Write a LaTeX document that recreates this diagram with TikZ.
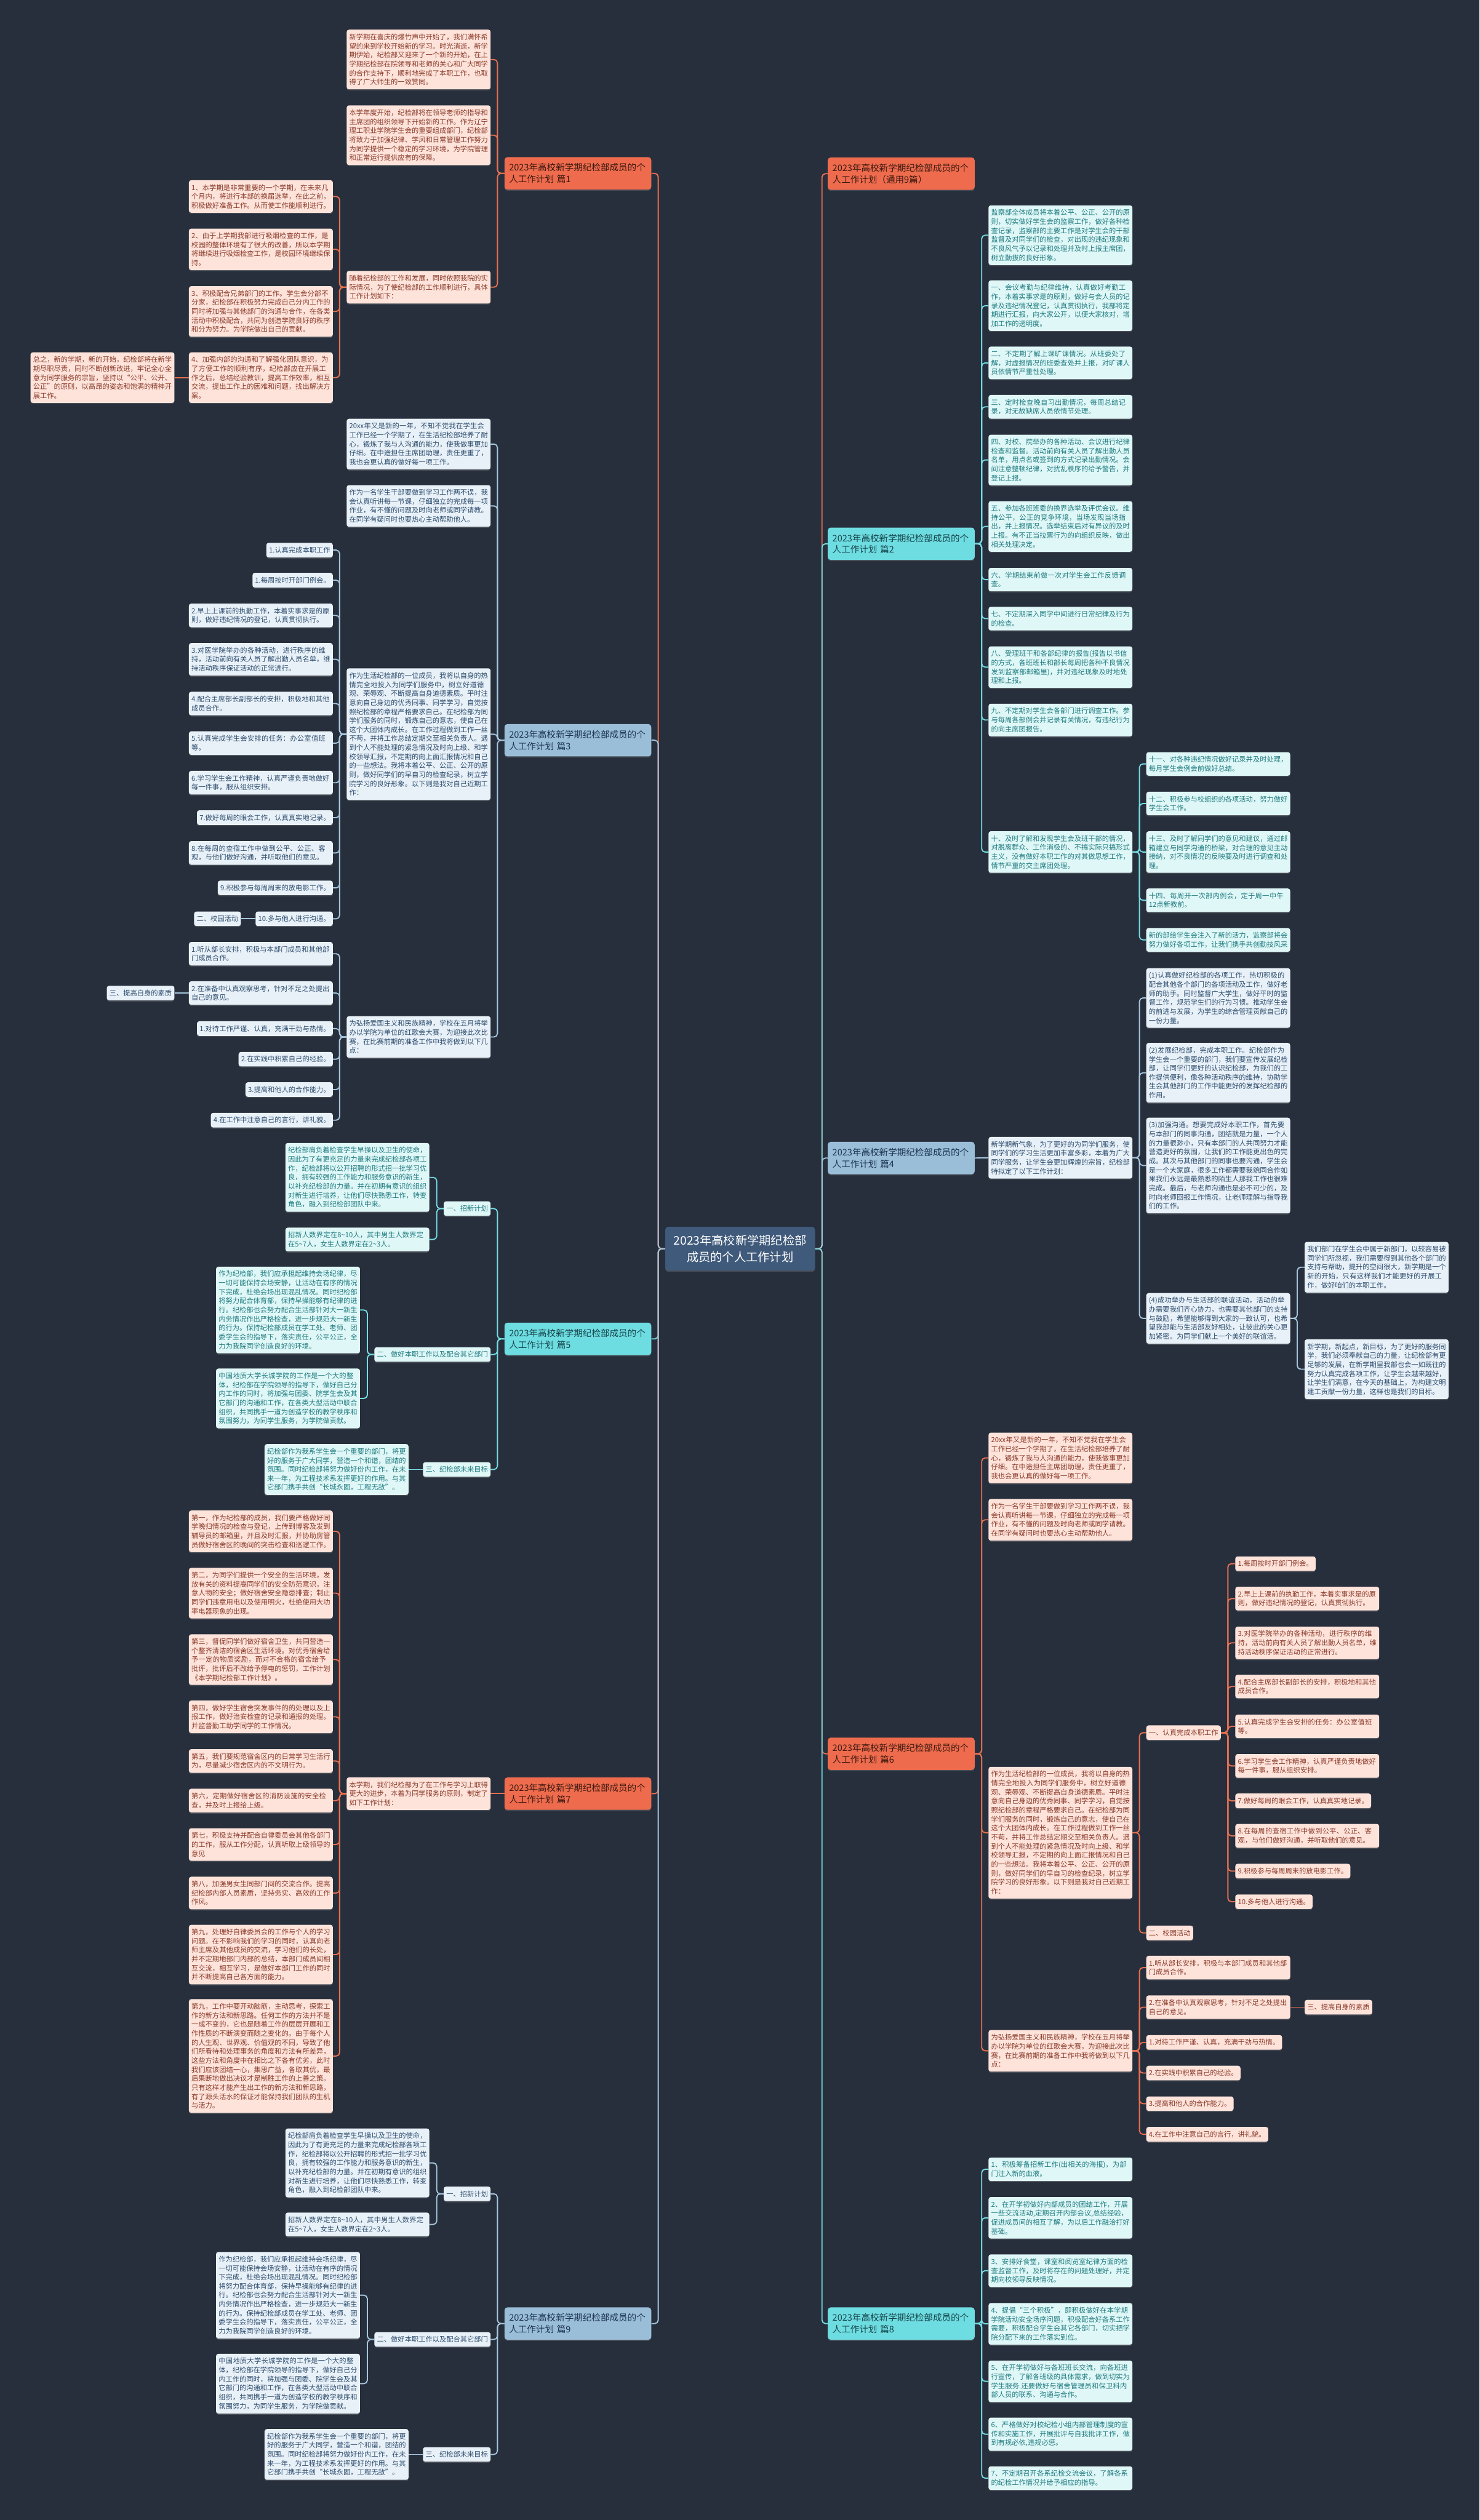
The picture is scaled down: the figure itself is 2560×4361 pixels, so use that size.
\documentclass[tikz,border=0pt]{standalone}
\usepackage{fontspec}
\setmainfont{Noto Sans CJK SC}
\XeTeXlinebreaklocale "zh"
\XeTeXlinebreakskip=0pt plus 1pt
\usetikzlibrary{shadows}
\definecolor{bgc}{HTML}{272F3D}
\definecolor{pkf}{HTML}{FDE3DA}\definecolor{pkt}{HTML}{8B3A2A}
\definecolor{cyf}{HTML}{E0F7F7}\definecolor{cyt}{HTML}{1E7B80}
\definecolor{buf}{HTML}{E9F1F8}\definecolor{but}{HTML}{2D4D6E}
\definecolor{bOf}{HTML}{EE6C4D}\definecolor{bOt}{HTML}{3B1710}
\definecolor{bCf}{HTML}{6EDDE2}\definecolor{bCt}{HTML}{17464B}
\definecolor{bBf}{HTML}{9ABED8}\definecolor{bBt}{HTML}{1D3550}
\definecolor{rootf}{HTML}{3F5A7B}
\definecolor{lnO}{HTML}{E9704F}\definecolor{lnC}{HTML}{74DDE2}\definecolor{lnB}{HTML}{A6C6DC}
\pgfdeclarelayer{bglayer}\pgfdeclarelayer{lnlayer}\pgfsetlayers{bglayer,lnlayer,main}
\tikzset{
 tx/.style={rounded corners=4pt, inner xsep=4.5pt, inner ysep=7pt, font=\fontsize{12}{15.6}\selectfont, align=left,
   drop shadow={shadow xshift=0pt, shadow yshift=-2pt, opacity=0.35}},
 wide/.style={text width=240pt},
 pk/.style={tx, fill=pkf, text=pkt},
 cy/.style={tx, fill=cyf, text=cyt},
 bu/.style={tx, fill=buf, text=but},
 brn/.style={rounded corners=5pt, inner xsep=8pt, text width=238pt, minimum height=56pt, align=left,
   font=\fontsize{15.5}{20}\selectfont, drop shadow={shadow xshift=0pt, shadow yshift=-2pt, opacity=0.35}},
 brO/.style={brn, fill=bOf, text=bOt},
 brC/.style={brn, fill=bCf, text=bCt},
 brB/.style={brn, fill=bBf, text=bBt},
 rootn/.style={rounded corners=5pt, fill=rootf, text=white, minimum width=259pt, minimum height=76pt, align=center,
   font=\fontsize{20.5}{28}\selectfont, drop shadow={shadow xshift=0pt, shadow yshift=-2pt, opacity=0.35}},
 ln/.style={line width=2pt, rounded corners=6pt},
 lO/.style={ln, draw=lnO}, lC/.style={ln, draw=lnC}, lB/.style={ln, draw=lnB}
}
\newcommand\LinkL[3]{\draw[#1] (#2.west) -- ++(-12,0) |- (#3.east);}
\newcommand\LinkR[3]{\draw[#1] (#2.east) -- ++(12,0) |- (#3.west);}
\newcommand\txtSA{20xx年又是新的一年，不知不觉我在学生会工作已经一个学期了，在生活纪检部培养了耐心，锻炼了我与人沟通的能力，使我做事更加仔细。在中途担任主席团助理，责任更重了，我也会更认真的做好每一项工作。}
\newcommand\txtSB{作为一名学生干部要做到学习工作两不误，我会认真听讲每一节课，仔细独立的完成每一项作业，有不懂的问题及时向老师或同学请教。在同学有疑问时也要热心主动帮助他人。}
\newcommand\txtSC{作为生活纪检部的一位成员，我将以自身的热情完全地投入为同学们服务中，树立好道德观、荣辱观、不断提高自身道德素质。平时注意向自己身边的优秀同事、同学学习，自觉按照纪检部的章程严格要求自己。在纪检部为同学们服务的同时，锻炼自己的意志，使自己在这个大团体内成长。在工作过程做到工作一丝不苟，并将工作总结定期交至相关负责人。遇到个人不能处理的紧急情况及时向上级、和学校领导汇报，不定期的向上面汇报情况和自己的一些想法。我将本着公平、公正、公开的原则，做好同学们的早自习的检查纪录，树立学院学习的良好形象。以下则是我对自己近期工作：}
\newcommand\txtSD{为弘扬爱国主义和民族精神，学校在五月将举办以学院为单位的红歌会大赛，为迎接此次比赛，在比赛前期的准备工作中我将做到以下几点：}
\newcommand\txtIa{1.每周按时开部门例会。}
\newcommand\txtIb{2.早上上课前的执勤工作，本着实事求是的原则，做好违纪情况的登记，认真贯彻执行。}
\newcommand\txtIc{3.对医学院举办的各种活动，进行秩序的维持，活动前向有关人员了解出勤人员名单，维持活动秩序保证活动的正常进行。}
\newcommand\txtId{4.配合主席部长副部长的安排，积极地和其他成员合作。}
\newcommand\txtIe{5.认真完成学生会安排的任务：办公室值班等。}
\newcommand\txtIf{6.学习学生会工作精神，认真严谨负责地做好每一件事，服从组织安排。}
\newcommand\txtIg{7.做好每周的眼会工作，认真真实地记录。}
\newcommand\txtIh{8.在每周的查宿工作中做到公平、公正、客观，与他们做好沟通，并听取他们的意见。}
\newcommand\txtIi{9.积极参与每周周末的放电影工作。}
\newcommand\txtIj{10.多与他人进行沟通。}
\newcommand\txtKa{1.听从部长安排，积极与本部门成员和其他部门成员合作。}
\newcommand\txtKb{2.在准备中认真观察思考，针对不足之处提出自己的意见。}
\newcommand\txtKc{1.对待工作严谨、认真，充满干劲与热情。}
\newcommand\txtKd{2.在实践中积累自己的经验。}
\newcommand\txtKe{3.提高和他人的合作能力。}
\newcommand\txtKf{4.在工作中注意自己的言行，讲礼貌。}
\newcommand\txtZa{纪检部肩负着检查学生早操以及卫生的使命，因此为了有更充足的力量来完成纪检部各项工作，纪检部将以公开招聘的形式招一批学习优良，拥有较强的工作能力和服务意识的新生，以补充纪检部的力量。并在初期有意识的组织对新生进行培养，让他们尽快熟悉工作，转变角色，融入到纪检部团队中来。}
\newcommand\txtZb{招新人数界定在8\textasciitilde10人，其中男生人数界定在5\textasciitilde7人，女生人数界定在2\textasciitilde3人。}
\newcommand\txtZc{作为纪检部，我们应承担起维持会场纪律，尽一切可能保持会场安静，让活动在有序的情况下完成，杜绝会场出现混乱情况。同时纪检部将努力配合体育部，保持早操能够有纪律的进行。纪检部也会努力配合生活部针对大一新生内务情况作出严格检查，进一步规范大一新生的行为。保持纪检部成员在学工处、老师、团委学生会的指导下，落实责任，公平公正，全力为我院同学创造良好的环境。}
\newcommand\txtZd{中国地质大学长城学院的工作是一个大的整体，纪检部在学院领导的指导下，做好自己分内工作的同时，将加强与团委、院学生会及其它部门的沟通和工作，在各类大型活动中联合组织，共同携手一道为创造学校的教学秩序和氛围努力，为同学生服务，为学院做贡献。}
\newcommand\txtZe{纪检部作为我系学生会一个重要的部门，将更好的服务于广大同学，营造一个和谐，团结的氛围。同时纪检部将努力做好份内工作，在未来一年，为工程技术系发挥更好的作用。与其它部门携手共创“长城永固，工程无敌”。}
\begin{document}
\begin{tikzpicture}[x=1pt,y=-1pt]
\begin{pgfonlayer}{bglayer}
\fill[bgc] (0,0) rectangle (2560,4361);
\end{pgfonlayer}
\useasboundingbox (0,0) rectangle (2560,4361);

\node[rootn] (root) at (1280.5,2161) {2023年高校新学期纪检部\\成员的个人工作计划};

% ===== Left 1
\node[brO,anchor=east] (L1) at (1127,300) {2023年高校新学期纪检部成员的个\\人工作计划 篇1};
\node[pk,wide,anchor=east] (L1a) at (849,103) {新学期在喜庆的爆竹声中开始了，我们满怀希望的来到学校开始新的学习。时光消逝，新学期伊始，纪检部又迎来了一个新的开始，在上学期纪检部在院领导和老师的关心和广大同学的合作支持下，顺利地完成了本职工作，也取得了广大师生的一致赞同。};
\node[pk,wide,anchor=east] (L1b) at (849,234) {本学年度开始，纪检部将在领导老师的指导和主席团的组织领导下开始新的工作。作为辽宁理工职业学院学生会的重要组成部门，纪检部将致力于加强纪律、学风和日常管理工作努力为同学提供一个稳定的学习环境，为学院管理和正常运行提供应有的保障。};
\node[pk,wide,anchor=east] (L1c) at (849,497) {随着纪检部的工作和发展，同时依照我院的实际情况，为了使纪检部的工作顺利进行，具体工作计划如下：};
\node[pk,wide,anchor=east] (L1c1) at (576,340) {1、本学期是非常重要的一个学期，在未来几个月内，将进行本部的换届选举，在此之前，积极做好准备工作。从而使工作能顺利进行。};
\node[pk,wide,anchor=east] (L1c2) at (576,431.5) {2、由于上学期我部进行吸烟检查的工作，是校园的整体环境有了很大的改善，所以本学期将继续进行吸烟检查工作，是校园环境继续保持。};
\node[pk,wide,anchor=east] (L1c3) at (576,539) {3、积极配合兄弟部门的工作。学生会分部不分家，纪检部在积极努力完成自己分内工作的同时将加强与其他部门的沟通与合作，在各类活动中积极配合，共同为创造学院良好的秩序和分为努力。为学院做出自己的贡献。};
\node[pk,wide,anchor=east] (L1c4) at (576,653.5) {4、加强内部的沟通和了解强化团队意识，为了方便工作的顺利有序，纪检部应在开展工作之后，总结经验教训，提高工作效率，相互交流，提出工作上的困难和问题，找出解决方案。};
\node[pk,wide,anchor=east] (L1d) at (302,653.5) {总之，新的学期，新的开始，纪检部将在新学期尽职尽责，同时不断创新改进，牢记全心全意为同学服务的宗旨，坚持以“公平、公开、公正”的原则，以高昂的姿态和饱满的精神开展工作。};

% ===== Left 3
\node[brB,anchor=east] (L3) at (1127,1281) {2023年高校新学期纪检部成员的个\\人工作计划 篇3};
\node[bu,wide,anchor=east] (L3a) at (849,768.5) {\txtSA};
\node[bu,wide,anchor=east] (L3b) at (849,875.5) {\txtSB};
\node[bu,wide,anchor=east] (L3c) at (849,1270.5) {\txtSC};
\node[bu,wide,anchor=east] (L3d) at (849,1794.5) {\txtSD};
\node[bu,anchor=east] (L3c0) at (576,952) {1.认真完成本职工作};
\node[bu,anchor=east] (L3c1) at (576,1004) {\txtIa};
\node[bu,wide,anchor=east] (L3c2) at (576,1065) {\txtIb};
\node[bu,wide,anchor=east] (L3c3) at (576,1141) {\txtIc};
\node[bu,wide,anchor=east] (L3c4) at (576,1217.5) {\txtId};
\node[bu,wide,anchor=east] (L3c5) at (576,1286) {\txtIe};
\node[bu,wide,anchor=east] (L3c6) at (576,1354.5) {\txtIf};
\node[bu,anchor=east] (L3c7) at (576,1415) {\txtIg};
\node[bu,wide,anchor=east] (L3c8) at (576,1476) {\txtIh};
\node[bu,anchor=east] (L3c9) at (576,1536.5) {\txtIi};
\node[bu,anchor=east] (L3c10) at (576,1590) {\txtIj};
\node[bu,anchor=east] (L3e) at (417,1590) {二、校园活动};
\node[bu,wide,anchor=east] (L3d1) at (576,1650.5) {\txtKa};
\node[bu,wide,anchor=east] (L3d2) at (576,1718.5) {\txtKb};
\node[bu,anchor=east] (L3f) at (302,1718.5) {三、提高自身的素质};
\node[bu,anchor=east] (L3d3) at (576,1780) {\txtKc};
\node[bu,anchor=east] (L3d4) at (576,1833) {\txtKd};
\node[bu,anchor=east] (L3d5) at (576,1885.5) {\txtKe};
\node[bu,anchor=east] (L3d6) at (576,1938.5) {\txtKf};

% ===== Left 5
\node[brC,anchor=east] (L5) at (1127,2317) {2023年高校新学期纪检部成员的个\\人工作计划 篇5};
\node[cy,anchor=east] (L5a) at (849,2091.5) {一、招新计划};
\node[cy,wide,anchor=east] (L5a1) at (743,2037.5) {\txtZa};
\node[cy,wide,anchor=east] (L5a2) at (743,2145) {\txtZb};
\node[cy,anchor=east] (L5b) at (849,2344) {二、做好本职工作以及配合其它部门};
\node[cy,wide,anchor=east] (L5b1) at (623,2267) {\txtZc};
\node[cy,wide,anchor=east] (L5b2) at (623,2420) {\txtZd};
\node[cy,anchor=east] (L5c) at (849,2543) {三、纪检部未来目标};
\node[cy,wide,anchor=east] (L5c1) at (707,2543) {\txtZe};

% ===== Left 7
\node[brO,anchor=east] (L7) at (1127,3104) {2023年高校新学期纪检部成员的个\\人工作计划 篇7};
\node[pk,wide,anchor=east] (L7a) at (849,3104) {本学期，我们纪检部为了在工作与学习上取得更大的进步，本着为同学服务的原则，制定了如下工作计划：};
\node[pk,wide,anchor=east] (L7a1) at (576,2650) {第一，作为纪检部的成员，我们要严格做好同学晚归情况的检查与登记，上传到博客及发到辅导员的邮箱里，并且及时汇报，并协助房管员做好宿舍区的晚间的突击检查和巡逻工作。};
\node[pk,wide,anchor=east] (L7a2) at (576,2757) {第二，为同学们提供一个安全的生活环境，发放有关的资料提高同学们的安全防范意识，注意人物的安全；做好宿舍安全隐患排查；制止同学们违章用电以及使用明火，杜绝使用大功率电器现象的出现。};
\node[pk,wide,anchor=east] (L7a3) at (576,2872) {第三，督促同学们做好宿舍卫生，共同营造一个整齐清洁的宿舍区生活环境。对优秀宿舍给予一定的物质奖励，而对不合格的宿舍给予批评，批评后不改给予停电的惩罚，工作计划《本学期纪检部工作计划》。};
\node[pk,wide,anchor=east] (L7a4) at (576,2971) {第四，做好学生宿舍突发事件的的处理以及上报工作，做好治安检查的记录和通报的处理。并监督勤工助学同学的工作情况。};
\node[pk,wide,anchor=east] (L7a5) at (576,3047.5) {第五，我们要规范宿舍区内的日常学习生活行为，尽量减少宿舍区内的不文明行为。};
\node[pk,wide,anchor=east] (L7a6) at (576,3116) {第六，定期做好宿舍区的消防设施的安全检查，并及时上报给上级。};
\node[pk,wide,anchor=east] (L7a7) at (576,3192) {第七，积极支持并配合自律委员会其他各部门的工作，服从工作分配，认真听取上级领导的意见};
\node[pk,wide,anchor=east] (L7a8) at (576,3276) {第八，加强男女生同部门间的交流合作。提高纪检部内部人员素质，坚持务实、高效的工作作风。};
\node[pk,wide,anchor=east] (L7a9) at (576,3382.5) {第九，处理好自律委员会的工作与个人的学习问题。在不影响我们的学习的同时，认真向老师主席及其他成员的交流，学习他们的长处，并不定期地部门内部的总结，本部门成员间相互交流，相互学习，是做好本部门工作的同时并不断提高自己各方面的能力。};
\node[pk,wide,anchor=east] (L7a10) at (576,3558) {第九，工作中要开动脑筋，主动思考，探索工作的新方法和新思路。任何工作的方法并不是一成不变的，它也是随着工作的层层开展和工作性质的不断演变而随之变化的。由于每个人的人生观、世界观、价值观的不同，导致了他们所看待和处理事务的角度和方法有所差异，这些方法和角度中在相比之下各有优劣，此时我们应该团结一心，集思广益，各取其优，最后果断地做出决议才是制胜工作的上善之策。只有这样才能产生出工作的新方法和新思路，有了源头活水的保证才能保持我们团队的生机与活力。};

% ===== Left 9
\node[brB,anchor=east] (L9) at (1127,4021) {2023年高校新学期纪检部成员的个\\人工作计划 篇9};
\node[bu,anchor=east] (L9a) at (849,3796.5) {一、招新计划};
\node[bu,wide,anchor=east] (L9a1) at (743,3743) {\txtZa};
\node[bu,wide,anchor=east] (L9a2) at (743,3849.5) {\txtZb};
\node[bu,anchor=east] (L9b) at (849,4048.5) {二、做好本职工作以及配合其它部门};
\node[bu,wide,anchor=east] (L9b1) at (623,3972) {\txtZc};
\node[bu,wide,anchor=east] (L9b2) at (623,4125) {\txtZd};
\node[bu,anchor=east] (L9c) at (849,4247.5) {三、纪检部未来目标};
\node[bu,wide,anchor=east] (L9c1) at (707,4247.5) {\txtZe};

% ===== Right 1
\node[brO,anchor=west] (R1) at (1432,300.5) {2023年高校新学期纪检部成员的个\\人工作计划（通用9篇）};

% ===== Right 2
\node[brC,anchor=west] (R2) at (1432,941) {2023年高校新学期纪检部成员的个\\人工作计划 篇2};
\node[cy,wide,anchor=west] (R2a) at (1710,407) {监察部全体成员将本着公平、公正、公开的原则，切实做好学生会的监察工作，做好各种检查记录，监察部的主要工作是对学生会的干部监督及对同学们的检查，对出现的违纪现象和不良风气予以记录和处理并及时上报主席团，树立勤拔的良好形象。};
\node[cy,wide,anchor=west] (R2b) at (1710,529) {一、会议考勤与纪律维持，认真做好考勤工作，本着实事求是的原则，做好与会人员的记录及违纪情况登记，认真贯彻执行，我部将定期进行汇报，向大家公开，以便大家核对，增加工作的透明度。};
\node[cy,wide,anchor=west] (R2c) at (1710,628) {二、不定期了解上课旷课情况。从班委处了解，对虚报情况的班委查处并上报，对旷课人员依情节严重性处理。};
\node[cy,wide,anchor=west] (R2d) at (1710,704) {三、定时检查晚自习出勤情况，每周总结记录，对无故缺席人员依情节处理。};
\node[cy,wide,anchor=west] (R2e) at (1710,796) {四、对校、院举办的各种活动、会议进行纪律检查和监督。活动前向有关人员了解出勤人员名单，用点名或签到的方式记录出勤情况。会间注意整顿纪律，对扰乱秩序的给予警告，并登记上报。};
\node[cy,wide,anchor=west] (R2f) at (1710,911) {五、参加各班班委的换界选举及评优会议。维持公平，公正的竞争环境，当场发现当场指出，并上报情况。选举结束后对有异议的及时上报。有不正当拉票行为的向组织反映，做出相关处理决定。};
\node[cy,wide,anchor=west] (R2g) at (1710,1003) {六、学期结束前做一次对学生会工作反馈调查。};
\node[cy,wide,anchor=west] (R2h) at (1710,1070.5) {七、不定期深入同学中间进行日常纪律及行为的检查。};
\node[cy,wide,anchor=west] (R2i) at (1710,1154.5) {八、受理班干和各部纪律的报告(报告以书信的方式，各班班长和部长每周把各种不良情况发到监察部邮箱里)，并对违纪现象及时地处理和上报。};
\node[cy,wide,anchor=west] (R2j) at (1710,1246) {九、不定期对学生会各部门进行调查工作。参与每周各部例会并记录有关情况，有违纪行为的向主席团报告。};
\node[cy,wide,anchor=west] (R2k) at (1710,1474.5) {十、及时了解和发现学生会及班干部的情况，对脱离群众、工作消极的、不搞实际只搞形式主义，没有做好本职工作的对其做思想工作，情节严重的交主席团处理。};
\node[cy,wide,anchor=west] (R2k1) at (1983,1322) {十一、对各种违纪情况做好记录并及时处理，每月学生会例会前做好总结。};
\node[cy,wide,anchor=west] (R2k2) at (1983,1390.5) {十二、积极参与校组织的各项活动，努力做好学生会工作。};
\node[cy,wide,anchor=west] (R2k3) at (1983,1474.5) {十三、及时了解同学们的意见和建议，通过邮箱建立与同学沟通的桥梁，对合理的意见主动接纳，对不良情况的反映要及时进行调查和处理。};
\node[cy,wide,anchor=west] (R2k4) at (1983,1558) {十四、每周开一次部内例会，定于周一中午12点新教前。};
\node[cy,wide,anchor=west] (R2k5) at (1983,1626.5) {新的部给学生会注入了新的活力，监察部将会努力做好各项工作，让我们携手共创勤技风采};

% ===== Right 4
\node[brB,anchor=west] (R4) at (1432,2004) {2023年高校新学期纪检部成员的个\\人工作计划 篇4};
\node[bu,wide,anchor=west] (R4a) at (1710,2003.5) {新学期新气象，为了更好的为同学们服务，使同学们的学习生活更加丰富多彩，本着为广大同学服务，让学生会更加辉煌的宗旨，纪检部特拟定了以下工作计划：};
\node[bu,wide,anchor=west] (R4a1) at (1983,1727) {(1)认真做好纪检部的各项工作，热切积极的配合其他各个部门的各项活动及工作，做好老师的助手。同时监督广大学生，做好平时的监督工作，规范学生们的行为习惯。推动学生会的前进与发展，为学生的综合管理贡献自己的一份力量。};
\node[bu,wide,anchor=west] (R4a2) at (1983,1856.5) {(2)发展纪检部，完成本职工作。纪检部作为学生会一个重要的部门，我们要宣传发展纪检部，让同学们更好的认识纪检部，为我们的工作提供便利，像各种活动秩序的维持，协助学生会其他部门的工作中能更好的发挥纪检部的作用。};
\node[bu,wide,anchor=west] (R4a3) at (1983,2017) {(3)加强沟通。想要完成好本职工作，首先要与本部门的同事沟通，团结就是力量，一个人的力量很渺小，只有本部门的人共同努力才能营造更好的氛围，让我们的工作能更出色的完成。其次与其他部门的同事也要沟通，学生会是一个大家庭，很多工作都需要我貌同合作如果我们永远是最熟悉的陌生人那我工作也很难完成。最后，与老师沟通也是必不可少的，及时向老师回报工作情况，让老师理解与指导我们的工作。};
\node[bu,wide,anchor=west] (R4a4) at (1983,2281.5) {(4)成功举办与生活部的联谊活动，活动的举办需要我们齐心协力，也需要其他部门的支持与鼓励，希望能够得到大家的一致认可，也希望我部能与生活部友好相处，让彼此的关心更加紧密。为同学们献上一个美好的联谊活。};
\node[bu,wide,anchor=west] (R4b1) at (2257,2193) {我们部门在学生会中属于新部门，以较容易被同学们所忽视，我们需要得到其他各个部门的支持与帮助，提升的空间很大，新学期是一个新的开始，只有这样我们才能更好的开展工作，做好咱们的本职工作。};
\node[bu,wide,anchor=west] (R4b2) at (2257,2369.5) {新学期，新起点，新目标，为了更好的服务同学，我们必须奉献自己的力量，让纪检部有更足够的发展，在新学期里我部也会一如既往的努力认真完成各项工作，让学生会越来越好，让学生们满意，在今天的基础上，为构建文明建工贡献一份力量，这样也是我们的目标。};

% ===== Right 6
\node[brO,anchor=west] (R6) at (1432,3035) {2023年高校新学期纪检部成员的个\\人工作计划 篇6};
\node[pk,wide,anchor=west] (R6a) at (1710,2523) {\txtSA};
\node[pk,wide,anchor=west] (R6b) at (1710,2630) {\txtSB};
\node[pk,wide,anchor=west] (R6c) at (1710,3171.5) {\txtSC};
\node[pk,wide,anchor=west] (R6d) at (1710,3549) {\txtSD};
\node[pk,anchor=west] (R6e) at (1983,2998.5) {一、认真完成本职工作};
\node[pk,anchor=west] (R6f) at (1983,3345) {二、校园活动};
\node[pk,anchor=west] (R6e1) at (2137,2706) {\txtIa};
\node[pk,wide,anchor=west] (R6e2) at (2137,2766.5) {\txtIb};
\node[pk,wide,anchor=west] (R6e3) at (2137,2843) {\txtIc};
\node[pk,wide,anchor=west] (R6e4) at (2137,2918.5) {\txtId};
\node[pk,wide,anchor=west] (R6e5) at (2137,2987.5) {\txtIe};
\node[pk,wide,anchor=west] (R6e6) at (2137,3056) {\txtIf};
\node[pk,anchor=west] (R6e7) at (2137,3116.5) {\txtIg};
\node[pk,wide,anchor=west] (R6e8) at (2137,3177) {\txtIh};
\node[pk,anchor=west] (R6e9) at (2137,3238) {\txtIi};
\node[pk,anchor=west] (R6e10) at (2137,3291) {\txtIj};
\node[pk,wide,anchor=west] (R6d1) at (1983,3405) {\txtKa};
\node[pk,wide,anchor=west] (R6d2) at (1983,3473.5) {\txtKb};
\node[pk,anchor=west] (R6g) at (2257,3473.5) {三、提高自身的素质};
\node[pk,anchor=west] (R6d3) at (1983,3534.5) {\txtKc};
\node[pk,anchor=west] (R6d4) at (1983,3587.5) {\txtKd};
\node[pk,anchor=west] (R6d5) at (1983,3640.5) {\txtKe};
\node[pk,anchor=west] (R6d6) at (1983,3693.5) {\txtKf};

% ===== Right 8
\node[brC,anchor=west] (R8) at (1432,4021) {2023年高校新学期纪检部成员的个\\人工作计划 篇8};
\node[cy,wide,anchor=west] (R8a) at (1710,3754) {1、积极筹备招新工作(出相关的海报)，为部门注入新的血液。};
\node[cy,wide,anchor=west] (R8b) at (1710,3838) {2、在开学初做好内部成员的团结工作，开展一些交流活动,定期召开内部会议,总结经验，促进成员间的相互了解，为以后工作融洽打好基础。};
\node[cy,wide,anchor=west] (R8c) at (1710,3929.5) {3、安排好食堂，课室和阅览室纪律方面的检查监督工作，及时将存在的问题处理好，并定期向校领导反映情况。};
\node[cy,wide,anchor=west] (R8d) at (1710,4021.5) {4、提倡“三个积极”，即积极做好在本学期学院活动安全场序问题，积极配合好各系工作需要，积极配合学生会其它各部门，切实把学院分配下来的工作落实到位。};
\node[cy,wide,anchor=west] (R8e) at (1710,4121) {5、在开学初做好与各班班长交流，向各班进行宣传，了解各班级的具体需求，做到切实为学生服务.还要做好与宿舍管理员和保卫科内部人员的联系、沟通与合作。};
\node[cy,wide,anchor=west] (R8f) at (1710,4212.5) {6、严格做好对校纪检小组内部管理制度的宣传和实施工作，开展批评与自我批评工作，做到有规必依,违规必惩。};
\node[cy,wide,anchor=west] (R8g) at (1710,4288.5) {7、不定期召开各系纪检交流会议，了解各系的纪检工作情况并给予相应的指导。};

\begin{pgfonlayer}{lnlayer}
\LinkL{lO}{root}{L1}\LinkL{lB}{root}{L3}\LinkL{lC}{root}{L5}\LinkL{lO}{root}{L7}\LinkL{lB}{root}{L9}
\LinkR{lO}{root}{R1}\LinkR{lC}{root}{R2}\LinkR{lB}{root}{R4}\LinkR{lO}{root}{R6}\LinkR{lC}{root}{R8}
\foreach \c in {L1a,L1b,L1c} {\LinkL{lO}{L1}{\c}}
\foreach \c in {L1c1,L1c2,L1c3,L1c4} {\LinkL{lO}{L1c}{\c}}
\draw[lO] (L1c4.west) -- (L1d.east);
\foreach \c in {L3a,L3b,L3c,L3d} {\LinkL{lB}{L3}{\c}}
\foreach \c in {L3c0,L3c1,L3c2,L3c3,L3c4,L3c5,L3c6,L3c7,L3c8,L3c9,L3c10} {\LinkL{lB}{L3c}{\c}}
\foreach \c in {L3d1,L3d2,L3d3,L3d4,L3d5,L3d6} {\LinkL{lB}{L3d}{\c}}
\draw[lB] (L3c10.west) -- (L3e.east);
\draw[lB] (L3d2.west) -- (L3f.east);
\foreach \c in {L5a,L5b,L5c} {\LinkL{lC}{L5}{\c}}
\foreach \c in {L5a1,L5a2} {\LinkL{lC}{L5a}{\c}}
\foreach \c in {L5b1,L5b2} {\LinkL{lC}{L5b}{\c}}
\draw[lC] (L5c.west) -- (L5c1.east);
\draw[lO] (L7.west) -- (L7a.east);
\foreach \c in {L7a1,L7a2,L7a3,L7a4,L7a5,L7a6,L7a7,L7a8,L7a9,L7a10} {\LinkL{lO}{L7a}{\c}}
\foreach \c in {L9a,L9b,L9c} {\LinkL{lB}{L9}{\c}}
\foreach \c in {L9a1,L9a2} {\LinkL{lB}{L9a}{\c}}
\foreach \c in {L9b1,L9b2} {\LinkL{lB}{L9b}{\c}}
\draw[lB] (L9c.west) -- (L9c1.east);
\foreach \c in {R2a,R2b,R2c,R2d,R2e,R2f,R2g,R2h,R2i,R2j,R2k} {\LinkR{lC}{R2}{\c}}
\foreach \c in {R2k1,R2k2,R2k3,R2k4,R2k5} {\LinkR{lC}{R2k}{\c}}
\draw[lB] (R4.east) -- (R4a.west);
\foreach \c in {R4a1,R4a2,R4a3,R4a4} {\LinkR{lB}{R4a}{\c}}
\foreach \c in {R4b1,R4b2} {\LinkR{lB}{R4a4}{\c}}
\foreach \c in {R6a,R6b,R6c,R6d} {\LinkR{lO}{R6}{\c}}
\foreach \c in {R6e,R6f} {\LinkR{lO}{R6c}{\c}}
\foreach \c in {R6e1,R6e2,R6e3,R6e4,R6e5,R6e6,R6e7,R6e8,R6e9,R6e10} {\LinkR{lO}{R6e}{\c}}
\foreach \c in {R6d1,R6d2,R6d3,R6d4,R6d5,R6d6} {\LinkR{lO}{R6d}{\c}}
\draw[lO] (R6d2.east) -- (R6g.west);
\foreach \c in {R8a,R8b,R8c,R8d,R8e,R8f,R8g} {\LinkR{lC}{R8}{\c}}
\end{pgfonlayer}
\end{tikzpicture}
\end{document}
